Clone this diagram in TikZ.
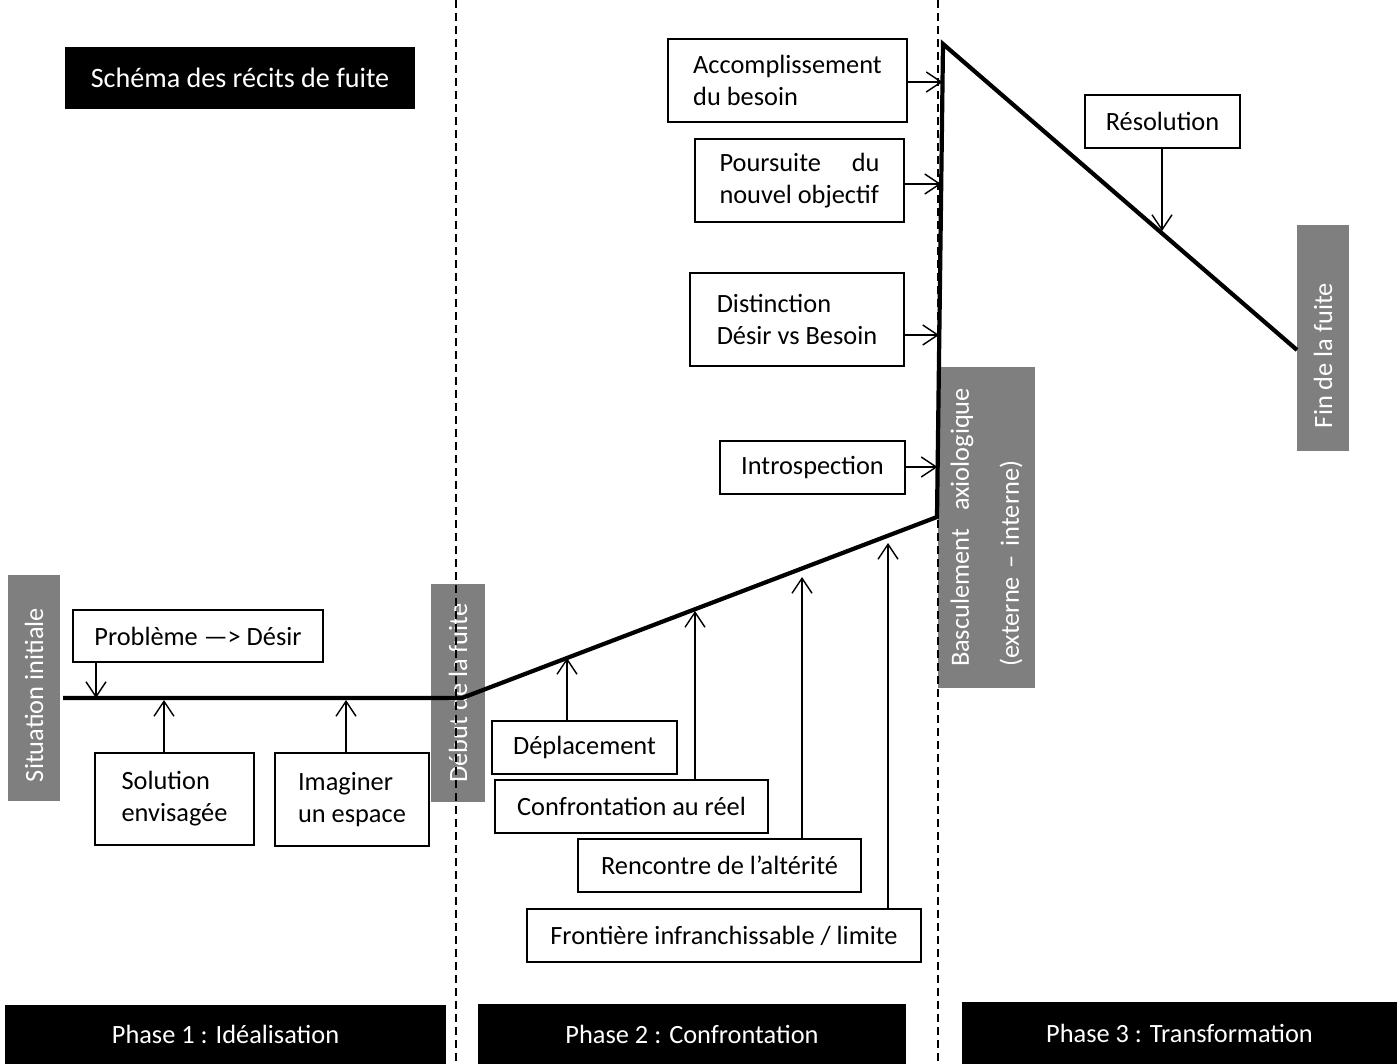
\documentclass[tikz,border=0pt]{standalone}
\usepackage{fontspec}
\setmainfont{Carlito}
\usepackage{tikz}
\usetikzlibrary{positioning,arrows.meta}
\definecolor{gris}{RGB}{127,127,127}

\begin{document}
\begin{tikzpicture}[
  x=0.02cm, y=-0.02cm,
  font=\fontsize{15pt}{18.2pt}\selectfont,
  >={Straight Barb[length=0.3cm,width=0.4cm]},
  etape/.style={draw, line width=0.7pt, align=left, inner sep=0pt, minimum height=1.06cm},
  bande/.style={fill=gris, text=white, rotate=90, inner sep=0pt, align=left},
  phase/.style={fill=black, text=white, inner sep=0pt},
  trajet/.style={line width=2.4pt},
  fleche/.style={->, line width=0.8pt},
  limite/.style={line width=0.6pt, dash pattern=on 0.16cm off 0.1cm},
]
\useasboundingbox (0,0) rectangle (1397,1064);

% bandes grises
\node[bande, minimum width=4.54cm, minimum height=1.04cm] (sitinit) at (34,688) {Situation initiale\hspace{0.28cm}};
\node[bande, minimum width=4.38cm, minimum height=1.08cm] (debut) at (458,693) {Début de la fuite};
\node[bande, minimum width=6.42cm, minimum height=1.94cm, text width=5.58cm,
      font=\fontsize{15pt}{28.5pt}\selectfont] (bascule) at (986.5,527.5)
  {Basculement\hfill axiologique\\(externe – interne)};
\node[bande, minimum width=4.52cm, minimum height=1.04cm] (fin) at (1323,338) {Fin de la fuite\hspace{0.7cm}};

% separations des phases
\coordinate (l1h) at (456,0);
\coordinate (l1b) at (456,1064);
\coordinate (l2h) at (938,0);
\coordinate (l2b) at (938,1064);
\draw[limite] (l1h) -- (l1b);
\draw[limite] (l2h) -- (l2b);

% trajet du recit
\coordinate (a0) at (63,698);
\coordinate (a1) at (462,698);
\coordinate (a2) at (937,517);
\coordinate (a3) at (943,44);
\coordinate (a4) at (1297,350);
\draw[trajet] (a0) -- (a1) -- (a2) -- (a3) -- (a4);

% titre et phases
\node[phase, minimum width=7cm, minimum height=1.24cm, font=\fontsize{16pt}{19pt}\selectfont] (titre) at (240,78) {Schéma des récits de fuite};
\node[phase, minimum width=8.82cm, minimum height=1.18cm] (ph1) at (225.5,1034.5) {Phase 1 : Idéalisation};
\node[phase, minimum width=8.56cm, minimum height=1.2cm] (ph2) at (692,1034) {Phase 2 : Confrontation};
\node[phase, minimum width=8.7cm, minimum height=1.24cm] (ph3) at (1179.5,1033) {Phase 3 : Transformation};

% phase 1
\node[etape, minimum width=5cm, minimum height=1.04cm] (probleme) at (198,636) {Problème —> Désir};
\node[etape, minimum width=3.18cm, minimum height=1.84cm] (solution) at (174.5,799) {Solution\\envisagée};
\node[etape, minimum width=3.08cm, minimum height=1.86cm] (imaginer) at (352,799.5) {Imaginer\\un espace};

% phase 2
\node[etape, minimum width=3.7cm] (deplacement) at (584.5,747.5) {Déplacement};
\node[etape, minimum width=5.46cm] (confrontation) at (631.5,806.5) {Confrontation au réel};
\node[etape, minimum width=5.66cm] (rencontre) at (719.5,865.5) {Rencontre de l’altérité};
\node[etape, minimum width=7.88cm] (frontiere) at (724,935.5) {Frontière infranchissable / limite};

% phase 3
\node[etape, minimum width=3.7cm] (introspection) at (812.5,467.5) {Introspection};
\node[etape, minimum width=4.28cm, minimum height=1.86cm] (distinction) at (797,319.5) {Distinction\\Désir vs Besoin};
\node[etape, minimum width=4.18cm, minimum height=1.66cm] (poursuite) at (799.5,180.5)
  {\hbox to 3.2cm{Poursuite\hfill du}\\nouvel objectif};
\node[etape, minimum width=4.78cm, minimum height=1.66cm] (accomplissement) at (787.5,80.5) {Accomplissement\\du besoin};
\node[etape, minimum width=3.1cm] (resolution) at (1162.5,121.5) {Résolution};

% points d'impact sur le trajet
\coordinate (t0) at (96,698);
\coordinate (t1) at (164,700);
\coordinate (t2) at (346,700);
\coordinate (t3) at (567,658);
\coordinate (t4) at (695,611);
\coordinate (t5) at (802,577);
\coordinate (t6) at (888,543);
\coordinate (t7) at (937.5,467);
\coordinate (t8) at (939,335);
\coordinate (t9) at (941,184);
\coordinate (t10) at (942.5,82);
\coordinate (t11) at (1162,231);

\draw[fleche] (probleme.south -| t0) -- (t0);
\draw[fleche] (solution.north -| t1) -- (t1);
\draw[fleche] (imaginer.north -| t2) -- (t2);
\draw[fleche] (deplacement.north -| t3) -- (t3);
\draw[fleche] (confrontation.north -| t4) -- (t4);
\draw[fleche] (rencontre.north -| t5) -- (t5);
\draw[fleche] (frontiere.north -| t6) -- (t6);
\draw[fleche] (introspection.east |- t7) -- (t7);
\draw[fleche] (distinction.east |- t8) -- (t8);
\draw[fleche] (poursuite.east |- t9) -- (t9);
\draw[fleche] (accomplissement.east |- t10) -- (t10);
\draw[fleche] (resolution.south -| t11) -- (t11);
\end{tikzpicture}
\end{document}
